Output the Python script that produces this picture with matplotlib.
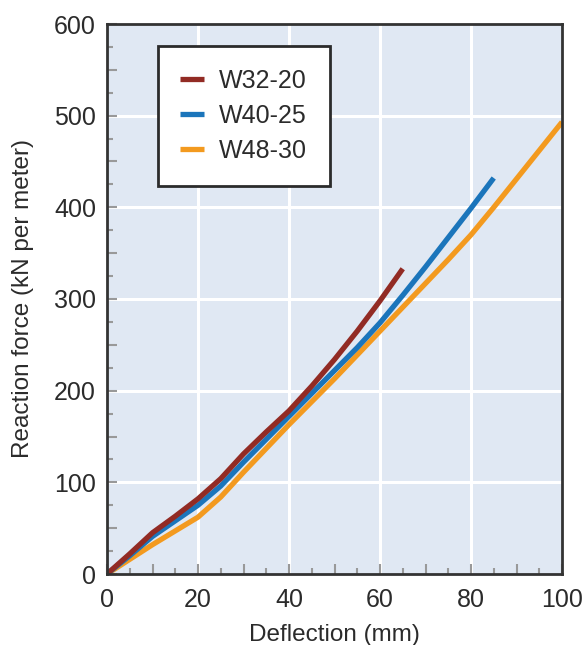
import matplotlib
matplotlib.use("Agg")
import matplotlib.pyplot as plt
from matplotlib.ticker import MultipleLocator, FuncFormatter

plt.rcParams['font.family'] = ['Liberation Sans', 'DejaVu Sans']

# data (deflection in mm, force in kN per meter)
x_red = [0, 5, 10, 15, 20, 25, 30, 35, 40, 45, 50, 55, 60, 65]
y_red = [0, 22, 45, 63, 82, 104, 131, 155, 178, 205, 234, 265, 298, 333]

x_blue = [0, 5, 10, 15, 20, 25, 30, 35, 40, 45, 50, 55, 60, 65, 70, 75, 80, 85]
y_blue = [0, 20, 41, 58, 75, 96, 122, 147, 172, 197, 222, 247, 274, 304, 335, 367, 399, 432]

x_orange = [0, 5, 10, 15, 20, 25, 30, 35, 40, 45, 50, 55, 60, 65, 70, 75, 80, 85, 90, 95, 100]
y_orange = [0, 16, 32, 47, 62, 84, 111, 137, 163, 188, 213, 239, 265, 291, 317, 343, 370, 400, 431, 462, 493]

names = ['W32-20', 'W40-25', 'W48-30']
colors = ['#922b24', '#1b75bb', '#f39a1f']

txt = '#2b2b2b'

fig = plt.figure(figsize=(5.86, 6.45), dpi=100)
ax = fig.add_axes([107 / 586, 1 - 574 / 645, 455 / 586, 550 / 645])
ax.set_facecolor('#e0e8f3')

# white grid
for gx in [20, 40, 60, 80]:
    ax.axvline(gx, color='white', lw=2.2, zorder=0.5)
for gy in [100, 200, 300, 400, 500]:
    ax.axhline(gy, color='white', lw=2.2, zorder=0.5)

series = [(x_red, y_red), (x_blue, y_blue), (x_orange, y_orange)]
for (xs, ys), c, n in zip(series[::-1], colors[::-1], names[::-1]):
    ax.plot(xs, ys, color=c, lw=3.8, label=n, solid_capstyle='butt',
            solid_joinstyle='round', zorder=2)

ax.set_xlim(0, 100)
ax.set_ylim(0, 600)

ax.xaxis.set_major_locator(MultipleLocator(10))
ax.xaxis.set_minor_locator(MultipleLocator(5))
ax.yaxis.set_major_locator(MultipleLocator(50))
ax.yaxis.set_minor_locator(MultipleLocator(25))
ax.xaxis.set_major_formatter(FuncFormatter(lambda v, p: '%d' % v if v % 20 == 0 else ''))
ax.yaxis.set_major_formatter(FuncFormatter(lambda v, p: '%d' % v if v % 100 == 0 else ''))

ax.tick_params(which='major', direction='in', length=7, width=1.5, color='#999999',
               labelsize=18, labelcolor=txt, pad=8)
ax.tick_params(axis='x', which='major', pad=10)
ax.tick_params(which='minor', direction='in', length=4, width=1.5, color='#999999')

for s in ax.spines.values():
    s.set_color('#333333')
    s.set_linewidth(2)
    s.set_zorder(3)

ax.set_xlabel('Deflection (mm)', fontsize=17.5, color=txt, labelpad=9)
ax.set_ylabel('Reaction force (kN per meter)', fontsize=17.5, color=txt, labelpad=14)

handles, labels = ax.get_legend_handles_labels()
leg = ax.legend(handles[::-1], labels[::-1], loc='upper left',
                bbox_to_anchor=(0.112, 0.96), fontsize=18, frameon=True,
                fancybox=False, borderpad=0.9, handlelength=0.95,
                handletextpad=0.6, labelspacing=0.45, borderaxespad=0)
leg.get_frame().set_edgecolor('#2b2b2b')
leg.get_frame().set_linewidth(2)
leg.get_frame().set_facecolor('white')
leg.get_frame().set_alpha(1)
for t in leg.get_texts():
    t.set_color(txt)

fig.savefig('out.png', dpi=100)
